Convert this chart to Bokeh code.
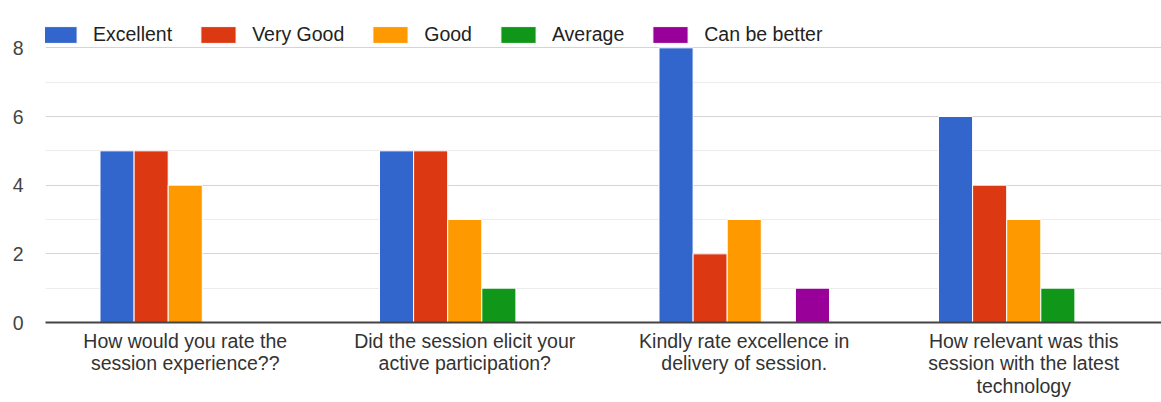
from bokeh.plotting import figure
from bokeh.models import ColumnDataSource, FixedTicker, Legend, LegendItem
from bokeh.transform import dodge
from bokeh.embed import file_html
from bokeh.resources import INLINE

questions = [
    "How would you rate the\nsession experience??",
    "Did the session elicit your\nactive participation?",
    "Kindly rate excellence in\ndelivery of session.",
    "How relevant was this\nsession with the latest\ntechnology",
]
series_names = ["Excellent", "Very Good", "Good", "Average", "Can be better"]
excellent = [5, 5, 8, 6]
very_good = [5, 5, 2, 4]
good = [4, 3, 3, 3]
average = [0, 1, 0, 1]
can_be_better = [0, 0, 1, 0]
colors = ["#3366cc", "#dc3912", "#ff9900", "#109618", "#990099"]
y_ticks = [0, 2, 4, 6, 8]

series_values = [excellent, very_good, good, average, can_be_better]

FONT = "Liberation Sans"
p = figure(
    x_range=questions, y_range=(0, 9),
    frame_width=1118, frame_height=309,
    output_backend="svg", toolbar_location=None,
    min_border_left=45, min_border_right=0, min_border_top=13, min_border_bottom=80,
)
p.outline_line_color = None

bw = 0.122
offsets = [-2 * bw, -bw, 0, bw, 2 * bw]
items = []
for name, vals, col, off in zip(series_names, series_values, colors, offsets):
    xs = [q for q, v in zip(questions, vals) if v > 0]
    tops = [v for v in vals if v > 0]
    src = ColumnDataSource(dict(x=xs, top=tops))
    r = p.vbar(x=dodge("x", off, range=p.x_range), top="top", width=bw, source=src,
               fill_color=col, line_color="white", line_width=1)
    items.append(LegendItem(label=name, renderers=[r]))

legend = Legend(items=items, orientation="horizontal", location=(-8, 276))
legend.background_fill_alpha = 0
legend.border_line_color = None
legend.padding = 2
legend.margin = 0
legend.spacing = 24
legend.glyph_width = 44
legend.glyph_height = 21
legend.label_standoff = 12
legend.label_text_font = FONT
legend.label_text_font_size = "19.5px"
legend.label_text_color = "#222222"
p.add_layout(legend, "center")

p.yaxis.ticker = FixedTicker(ticks=y_ticks, minor_ticks=[1, 3, 5, 7, 9])
p.yaxis.axis_line_color = None
p.yaxis.major_tick_line_color = None
p.yaxis.minor_tick_line_color = None
p.yaxis.major_tick_out = 0
p.yaxis.minor_tick_out = 0
p.yaxis.major_label_standoff = 22
p.yaxis.major_label_text_font = FONT
p.yaxis.major_label_text_font_size = "19.5px"
p.yaxis.major_label_text_color = "#444444"

p.xaxis.axis_line_color = "#444444"
p.xaxis.axis_line_width = 2
p.xaxis.major_tick_line_color = None
p.xaxis.minor_tick_line_color = None
p.xaxis.major_tick_out = 0
p.xaxis.minor_tick_out = 0
p.xaxis.major_label_standoff = 7
p.xaxis.major_label_text_font = FONT
p.xaxis.major_label_text_font_size = "19.5px"
p.xaxis.major_label_text_line_height = 1.04
p.xaxis.major_label_text_color = "#333333"

p.xgrid.grid_line_color = None
p.ygrid.grid_line_color = "#d4d4d4"
p.ygrid.minor_grid_line_color = "#ececec"

open("out.html", "w").write(file_html(p, INLINE))
